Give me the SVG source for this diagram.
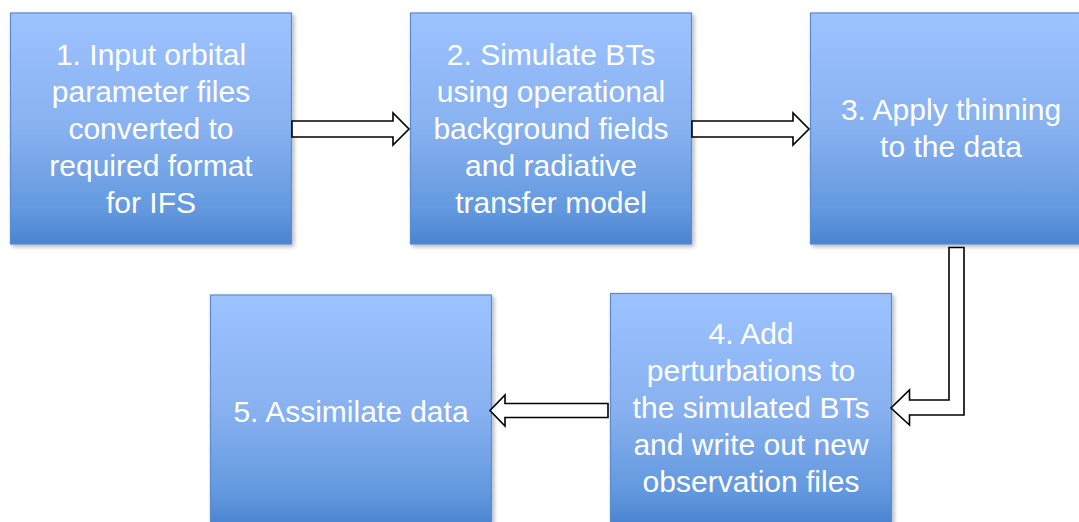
<svg xmlns="http://www.w3.org/2000/svg" width="1079" height="522" viewBox="0 0 1079 522">
<defs>
<linearGradient id="g" x1="0" y1="0" x2="0" y2="1">
<stop offset="0" stop-color="#9DC3FF"/>
<stop offset="0.5" stop-color="#88B1F0"/>
<stop offset="0.85" stop-color="#6399DF"/>
<stop offset="1" stop-color="#4A83D0"/>
</linearGradient>
<filter id="sh" x="-5%" y="-5%" width="115%" height="115%">
<feDropShadow dx="2" dy="2" stdDeviation="2" flood-color="#000" flood-opacity="0.3"/>
</filter>
<style>
.box{fill:url(#g);stroke:#5A8ACB;stroke-width:1.2;filter:url(#sh)}
.t{font-family:"Liberation Sans",Arial,sans-serif;font-size:30px;fill:#fff;text-anchor:middle}
.arr{fill:#fff;stroke:#000;stroke-width:1.6;stroke-linejoin:miter}
</style>
</defs>
<rect width="1079" height="522" fill="#fff"/>
<g id="node1">
<rect class="box" x="10.5" y="13" width="281" height="231"/>
<text class="t" x="151" y="65">1. Input orbital</text>
<text class="t" x="151" y="102">parameter files</text>
<text class="t" x="151" y="139">converted to</text>
<text class="t" x="151" y="176">required format</text>
<text class="t" x="151" y="213">for IFS</text>
</g>
<g id="node2">
<rect class="box" x="410.5" y="13" width="281" height="231"/>
<text class="t" x="551" y="65">2. Simulate BTs</text>
<text class="t" x="551" y="102">using operational</text>
<text class="t" x="551" y="139">background fields</text>
<text class="t" x="551" y="176">and radiative</text>
<text class="t" x="551" y="213">transfer model</text>
</g>
<g id="node3">
<rect class="box" x="810.5" y="13" width="281" height="231"/>
<text class="t" x="951" y="120">3. Apply thinning</text>
<text class="t" x="951" y="157">to the data</text>
</g>
<g id="node4">
<rect class="box" x="610.5" y="293.5" width="281" height="231"/>
<text class="t" x="751" y="344">4. Add</text>
<text class="t" x="751" y="381">perturbations to</text>
<text class="t" x="751" y="418">the simulated BTs</text>
<text class="t" x="751" y="455">and write out new</text>
<text class="t" x="751" y="492">observation files</text>
</g>
<g id="node5">
<rect class="box" x="210.5" y="295" width="281" height="231"/>
<text class="t" x="351" y="422">5. Assimilate data</text>
</g>
<g id="connectors">
<path class="arr" d="M292,121 H393 V113 L409,129 L393,145 V137 H292 Z"/>
<path class="arr" d="M692,121 H793 V113 L809,129 L793,145 V137 H692 Z"/>
<path class="arr" d="M949,247.5 H964 V415 H909.5 V425 L891,408 L909.5,390 V400 H949 Z"/>
<path class="arr" d="M608,403.5 H505 V395 L490,410.5 L505,426 V417.5 H608 Z"/>
</g>
</svg>
